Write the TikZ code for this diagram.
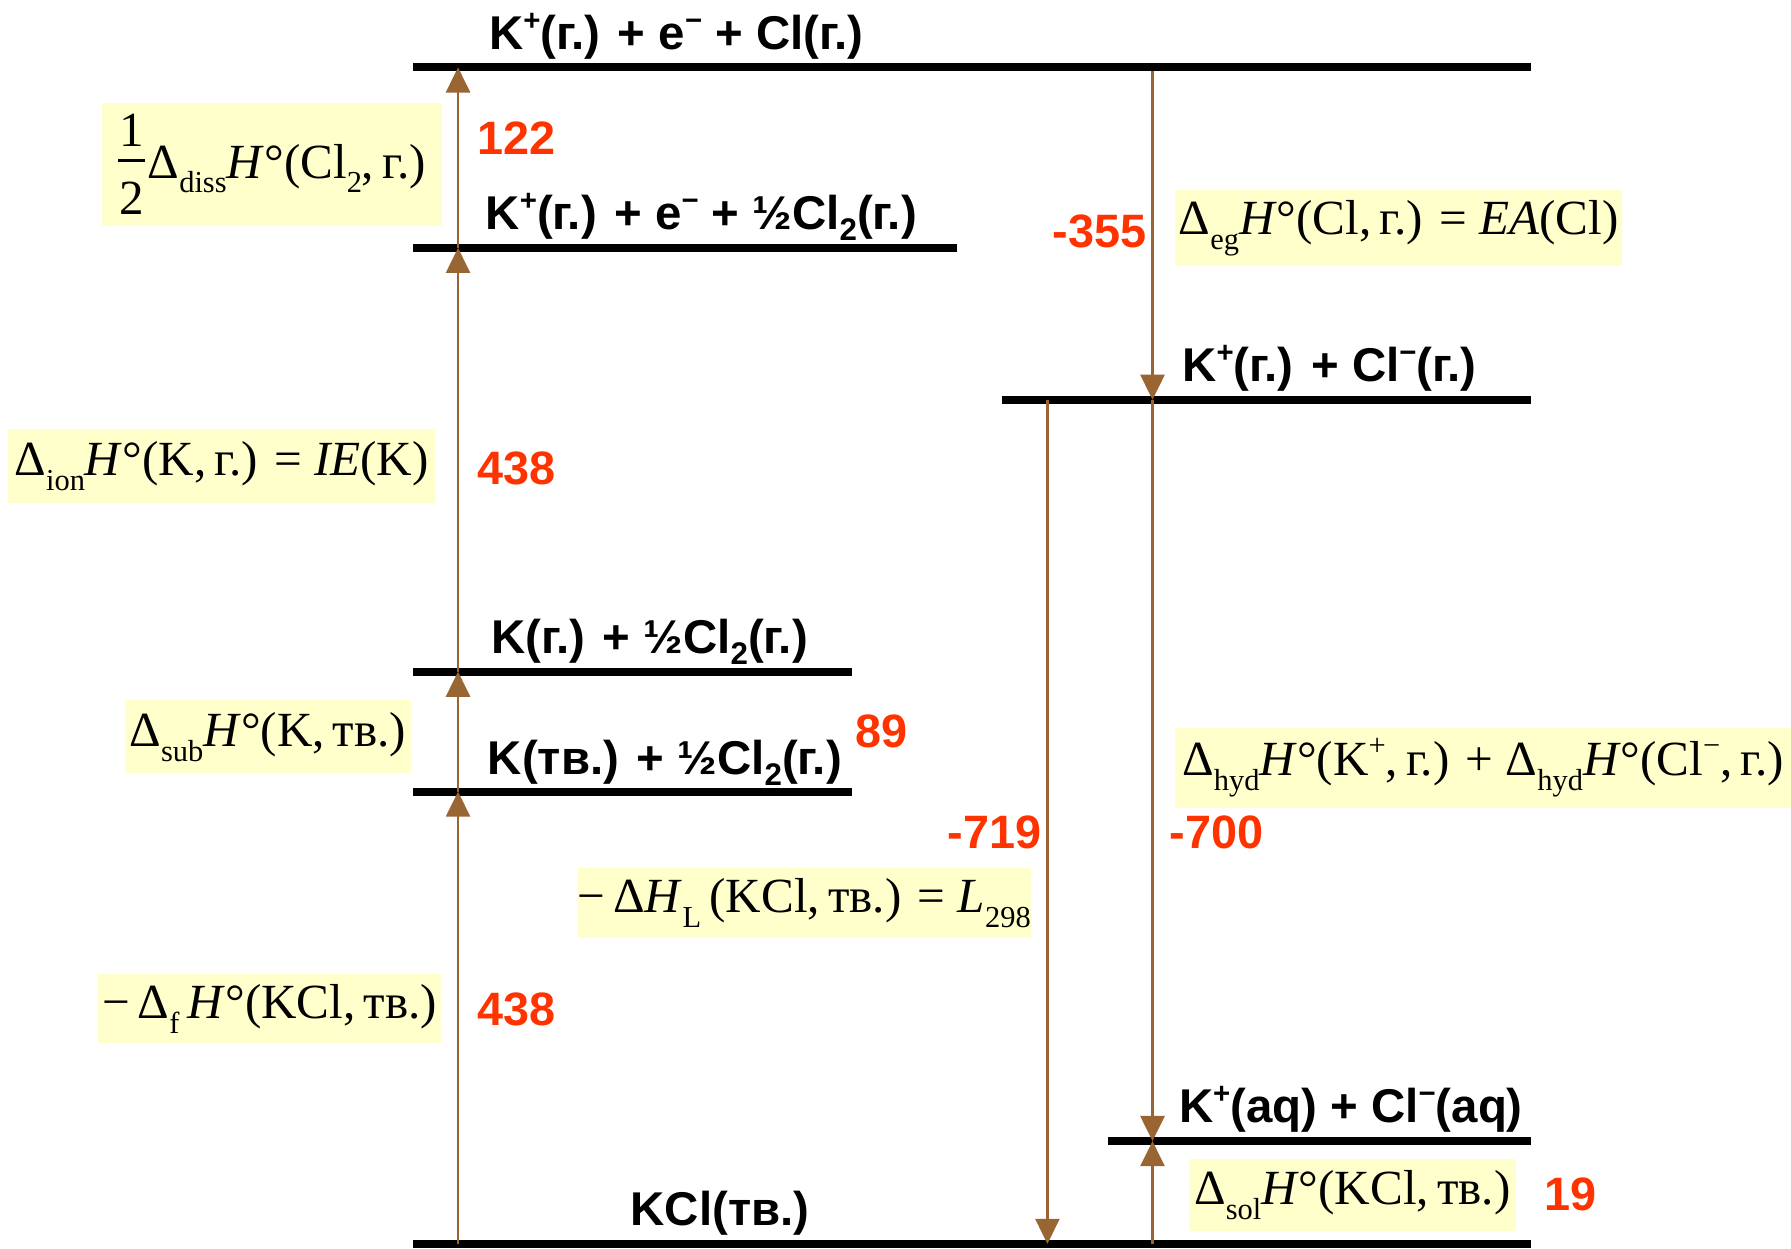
\documentclass[tikz,border=0pt]{standalone}
\usepackage{fontspec}
\usepackage{graphicx}
\setmainfont{Liberation Sans}
\newfontfamily\tnr{Liberation Serif}
\usetikzlibrary{arrows.meta}
\definecolor{brn}{HTML}{996633}
\definecolor{rnum}{HTML}{FF3300}
\definecolor{ylw}{HTML}{FFFFCC}
% bold sans super/subscripts
\newcommand\up[1]{\raisebox{0.40em}{\scalebox{0.62}{#1}}}
\newcommand\dn[1]{\raisebox{-0.24em}{\scalebox{0.66}{#1}}}
% serif label super/subscripts
\newcommand\lo[1]{\raisebox{-0.30em}{\scalebox{0.62}{#1}}}
\newcommand\hi[1]{\raisebox{0.42em}{\scalebox{0.62}{#1}}}
\newcommand\halffrac{\raisebox{-32pt}{\vbox{\hbox to 24pt{\hfil 1\hfil}\kern11pt\hrule height 2pt\kern18pt\hbox to 24pt{\hfil 2\hfil}}}}
\tikzset{
  level/.style={line width=7pt, black},
  arr/.style={draw=brn, line width=2.5pt, -{Triangle[width=21pt,length=22pt]}},
  lab/.style={font=\fontsize{41.5}{48}\selectfont\bfseries, anchor=base west, inner sep=0pt},
  num/.style={font=\fontsize{41}{48}\selectfont\bfseries, text=rnum, inner sep=0pt},
  ybox/.style={fill=ylw, inner sep=0pt, font=\tnr\fontsize{43}{50}\selectfont},
}
\begin{document}
\begin{tikzpicture}[x=1pt,y=-1pt]
\path[use as bounding box] (0,0) rectangle (1568,1093);
% yellow label boxes
\node[ybox, minimum width=298pt, minimum height=108pt] (bdiss) at (238,144) {\halffrac\kern2pt Δ\lo{diss}\textit{H}°(Cl\lo{2},\,г.)};
\node[ybox, minimum width=391pt, minimum height=67pt] (beg) at (1224.5,199.5) {Δ\lo{eg}\textit{H}°(Cl,\,г.) = \textit{EA}(Cl)};
\node[ybox, minimum width=374pt, minimum height=64pt] (bion) at (194,408) {Δ\lo{ion}\textit{H}°(K,\,г.) = \textit{IE}(K)};
\node[ybox, minimum width=251pt, minimum height=64pt] (bsub) at (234.5,645) {Δ\lo{sub}\textit{H}°(K,\,тв.)};
\node[ybox, minimum width=539pt, minimum height=70pt] (bhyd) at (1298.5,672) {Δ\lo{hyd}\textit{H}°(K\hi{+},\,г.) + Δ\lo{hyd}\textit{H}°(Cl\hi{−},\,г.)};
\node[ybox, minimum width=388pt, minimum height=61pt] (blat) at (704,790.5) {−\,Δ\textit{H}\lo{L}\,(KCl,\,тв.) = \textit{L}\lo{298}};
\node[ybox, minimum width=300pt, minimum height=60pt] (bf) at (236,883) {−\,Δ\lo{f}\,\textit{H}°(KCl,\,тв.)};
\node[ybox, minimum width=286pt, minimum height=63pt] (bsol) at (1184,1046.5) {Δ\lo{sol}\textit{H}°(KCl,\,тв.)};
% level end points
\coordinate (L1w) at (362,59);   \coordinate (L1e) at (1340,59);
\coordinate (L2w) at (362,217);  \coordinate (L2e) at (838,217);
\coordinate (L3w) at (877,350);  \coordinate (L3e) at (1340,350);
\coordinate (L4w) at (362,588);  \coordinate (L4e) at (746,588);
\coordinate (L5w) at (362,693);  \coordinate (L5e) at (746,693);
\coordinate (L6w) at (970,999);  \coordinate (L6e) at (1340,999);
\coordinate (L7w) at (362,1089); \coordinate (L7e) at (1340,1089);
\foreach \i in {1,...,7} {\draw[level] (L\i w) -- (L\i e);}
% arrow end points
\coordinate (a1) at (401,59);  \coordinate (a2) at (401,217);
\coordinate (a4) at (401,588); \coordinate (a5) at (401,693);
\coordinate (a7) at (401,1089);
\coordinate (b1) at (1009,62); \coordinate (b3) at (1009,350);
\coordinate (b6) at (1009,999); \coordinate (b7) at (1009,1089);
\coordinate (c3) at (917,350); \coordinate (c7) at (917,1089);
\draw[arr] (a7) -- (a5);
\draw[arr] (a5) -- (a4);
\draw[arr] (a4) -- (a2);
\draw[arr] (a2) -- (a1);
\draw[arr] (b1) -- (b3);
\draw[arr] (b3) -- (b6);
\draw[arr] (b7) -- (b6);
\draw[arr] (c3) -- (c7);
% level labels
\node[lab] (t1) at (428,43) {K\up{+}(г.) + e\up{−} + Cl(г.)};
\node[lab] (t2) at (425,201) {K\up{+}(г.) + e\up{−} + ½Cl\dn{2}(г.)};
\node[lab] (t3) at (1035,334) {K\up{+}(г.) + Cl\up{−}(г.)};
\node[lab] (t4) at (430,572) {K(г.) + ½Cl\dn{2}(г.)};
\node[lab] (t5) at (427,678) {K(тв.) + ½Cl\dn{2}(г.)};
\node[lab] (t6) at (1032,983) {K\up{+}(aq) + Cl\up{−}(aq)};
\node[lab] (t7) at (552,1073) {KCl(тв.)};
% values
\node[num, anchor=west] (n1) at (418,121) {122};
\node[num, anchor=east] (n2) at (1004,203) {-355};
\node[num, anchor=west] (n3) at (418,410) {438};
\node[num, anchor=west] (n4) at (749,640) {89};
\node[num, anchor=east] (n5) at (912,729) {-719};
\node[num, anchor=west] (n6) at (1024,729) {-700};
\node[num, anchor=west] (n7) at (418,884) {438};
\node[num, anchor=west] (n8) at (1352,1046) {19};
\end{tikzpicture}
\end{document}
